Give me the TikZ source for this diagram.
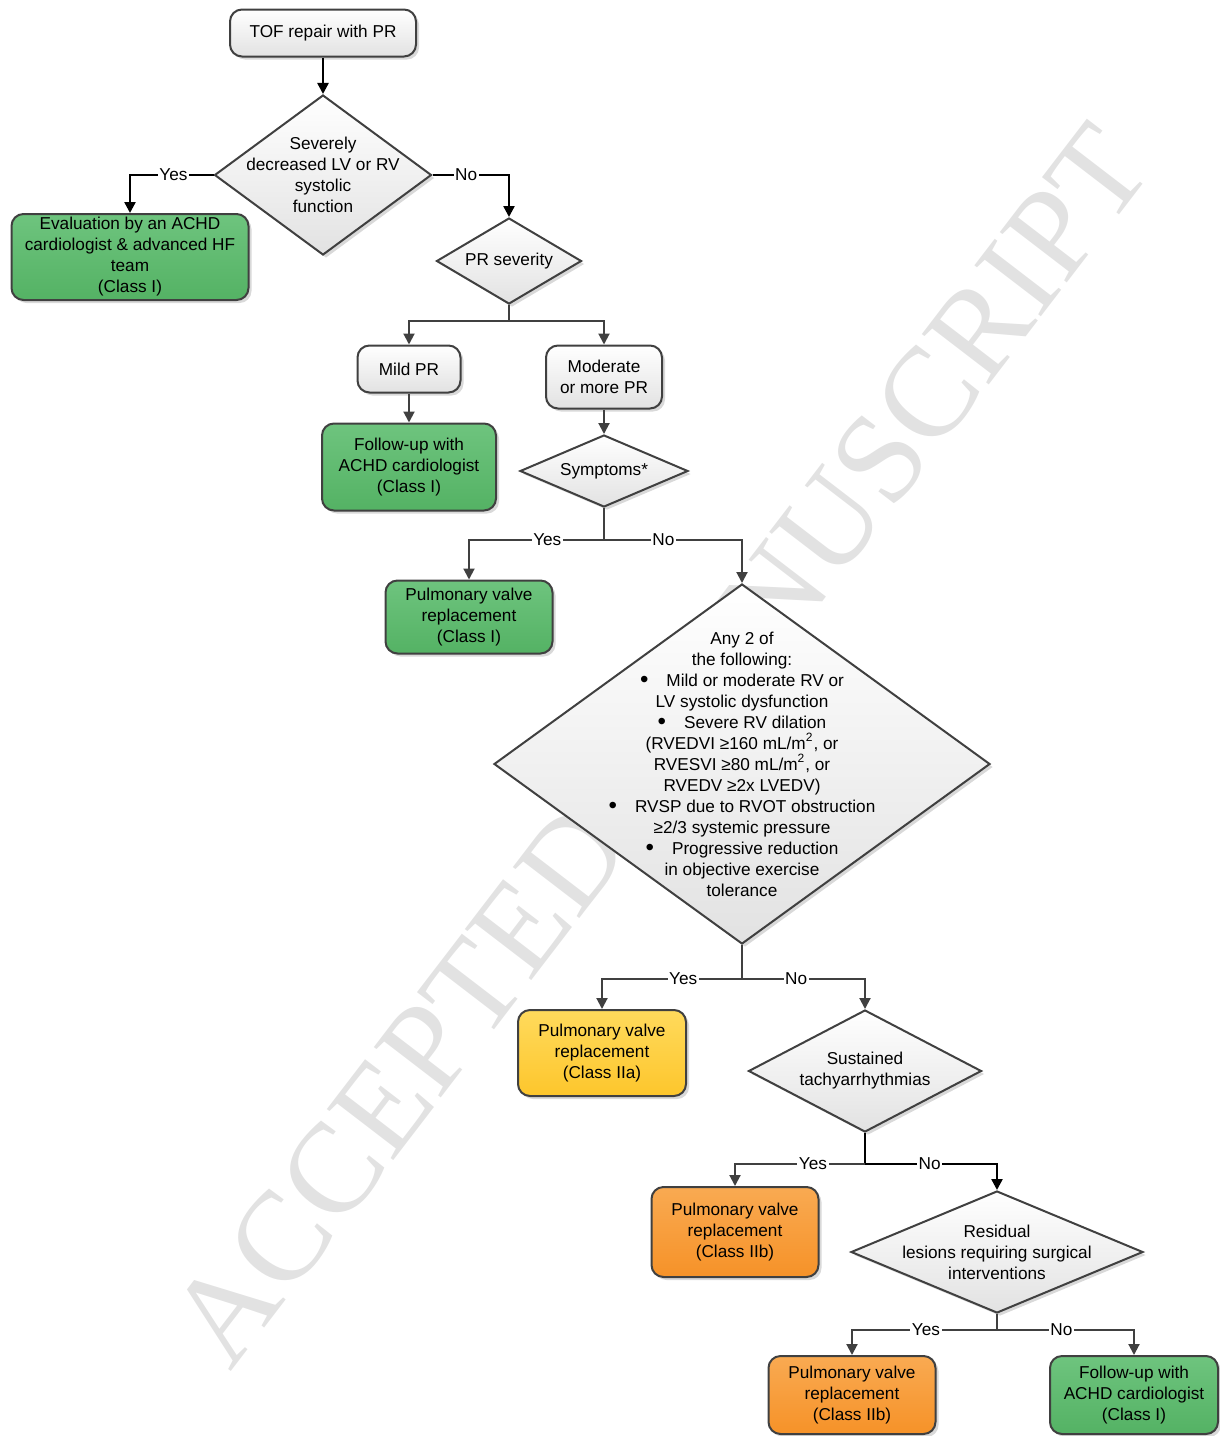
\documentclass[tikz,border=0pt]{standalone}
\usepackage{fontspec}
\setmainfont{Liberation Sans}
\newfontfamily\wmserif{Liberation Serif}
\usetikzlibrary{shapes.geometric,arrows.meta,shadows}
\definecolor{lineC}{RGB}{64,64,64}
\definecolor{wmC}{RGB}{226,226,226}
\definecolor{grTop}{RGB}{110,196,126}
\definecolor{grBot}{RGB}{84,178,100}
\definecolor{yeTop}{RGB}{255,218,92}
\definecolor{yeBot}{RGB}{253,198,44}
\definecolor{orTop}{RGB}{249,170,82}
\definecolor{orBot}{RGB}{246,146,40}
\definecolor{gyBot}{RGB}{226,226,226}
\newcommand\figfont{\fontsize{8.6}{10.5}\selectfont}
\newcommand\bulmark{\raisebox{-0.9pt}{\scalebox{1.4}{\textbullet}}\hspace{9pt}}
\tikzset{
  shadowed/.style={drop shadow={opacity=0.3,shadow xshift=1.5pt,shadow yshift=-1.5pt}},
  boxbase/.style={rectangle, rounded corners=6pt, draw=lineC, line width=1pt, font=\figfont,
     align=center, inner sep=1pt, shadowed},
  graybox/.style={boxbase, top color=white, bottom color=gyBot},
  greenbox/.style={boxbase, top color=grTop, bottom color=grBot},
  yellowbox/.style={boxbase, top color=yeTop, bottom color=yeBot},
  orangebox/.style={boxbase, top color=orTop, bottom color=orBot},
  decision/.style={diamond, draw=lineC, line width=1pt, inner sep=0pt, top color=white,
     bottom color=gyBot, shadowed},
  dtext/.style={font=\figfont, align=center, inner sep=0pt},
  conn/.style={draw=lineC, line width=1pt},
  arr/.style={conn, -{Triangle[length=5.5pt,width=5.5pt]}},
  bconn/.style={draw=black, line width=1.2pt},
  barr/.style={bconn, -{Triangle[length=5.5pt,width=5.5pt]}},
  lbl/.style={fill=white, inner sep=0.8pt, font=\figfont}
}
\begin{document}
\begin{tikzpicture}[x=0.5pt,y=-0.5pt]
\useasboundingbox (0,0) rectangle (1220,1436);
% watermark
\node[rotate=52.5, text=wmC, inner sep=0pt] (wm) at (660,745)
  {\wmserif\fontsize{64}{64}\selectfont ACCEPTED MANUSCRIPT};

% nodes
\node[graybox, minimum width=93pt, minimum height=23.5pt] (tof) at (323,33) {TOF repair with PR};
\node[decision, minimum width=108.5pt, minimum height=80pt,
  label={[dtext]center:Severely\\decreased LV or RV\\systolic\\function}] (d1) at (323,175) {};
\node[greenbox, minimum width=118.5pt, minimum height=43pt] (ev) at (130,257)
  {Evaluation by an ACHD\\cardiologist \& advanced HF\\team\\(Class I)};
\node[decision, minimum width=72.5pt, minimum height=43pt,
  label={[dtext]center:PR severity}] (prs) at (509,261) {};
\node[graybox, minimum width=51.5pt, minimum height=23.5pt] (mild) at (409,369) {Mild PR};
\node[graybox, minimum width=58pt, minimum height=31.5pt] (mod) at (604,377) {Moderate\\or more PR};
\node[greenbox, minimum width=87pt, minimum height=43.5pt] (fu1) at (409,467)
  {Follow-up with\\ACHD cardiologist\\(Class I)};
\node[decision, minimum width=84pt, minimum height=36pt,
  label={[dtext]center:Symptoms*}] (sym) at (604,471) {};
\node[greenbox, minimum width=83.5pt, minimum height=36.5pt] (pv1) at (469,617)
  {Pulmonary valve\\replacement\\(Class I)};
\node[decision, minimum width=248pt, minimum height=180pt,
  label={[dtext]center:Any 2 of\\the following:\\
  \bulmark Mild or moderate RV or\\
  LV systolic dysfunction\\
  \bulmark Severe RV dilation\\
  (RVEDVI ≥160 mL/m\textsuperscript{2}, or\\
  RVESVI ≥80 mL/m\textsuperscript{2}, or\\
  RVEDV ≥2x LVEDV)\\
  \bulmark RVSP due to RVOT obstruction\\
  ≥2/3 systemic pressure\\
  \bulmark Progressive reduction\\
  in objective exercise\\
  tolerance}] (big) at (742,764) {};
\node[yellowbox, minimum width=84pt, minimum height=43pt] (pv2) at (602,1053)
  {Pulmonary valve\\replacement\\(Class IIa)};
\node[decision, minimum width=116.5pt, minimum height=61pt,
  label={[dtext]center:Sustained\\tachyarrhythmias}] (sus) at (865,1071) {};
\node[orangebox, minimum width=83.5pt, minimum height=45pt] (pv3) at (735,1232)
  {Pulmonary valve\\replacement\\(Class IIb)};
\node[decision, minimum width=146pt, minimum height=61pt,
  label={[dtext]center:Residual\\lesions requiring surgical\\interventions}] (res) at (997,1252) {};
\node[orangebox, minimum width=83.5pt, minimum height=39pt] (pv4) at (852,1395)
  {Pulmonary valve\\replacement\\(Class IIb)};
\node[greenbox, minimum width=84pt, minimum height=39pt] (fu2) at (1134,1395)
  {Follow-up with\\ACHD cardiologist\\(Class I)};

% connectors
\draw[barr] (tof) -- (d1);
\draw[barr] (d1.west) -| node[lbl,pos=0.24]{Yes} (ev.north);
\draw[barr] (d1.east) -| node[lbl,pos=0.22]{No} (prs.north);

\draw[conn] (prs.south) -- ++(0,16) coordinate (j1);
\draw[arr] (j1) -| (mild.north);
\draw[arr] (j1) -| (mod.north);
\draw[arr] (mild) -- (fu1);
\draw[arr] (mod) -- (sym);

\draw[conn] (sym.south) -- ++(0,32) coordinate (j2);
\draw[arr] (j2) -| node[lbl,pos=0.21]{Yes} (pv1.north);
\draw[arr] (j2) -| node[lbl,pos=0.215]{No} (big.north);

\draw[conn] (big.south) -- ++(0,34) coordinate (j3);
\draw[arr] (j3) -| node[lbl,pos=0.21]{Yes} (pv2.north);
\draw[arr] (j3) -| node[lbl,pos=0.22]{No} (sus.north);

\draw[bconn] (sus.south) -- ++(0,31) coordinate (j4);
\draw[arr] (j4) -| node[lbl,pos=0.2]{Yes} (pv3.north);
\draw[barr] (j4) -| node[lbl,pos=0.245]{No} (res.north);

\draw[conn] (res.south) -- ++(0,16) coordinate (j5);
\draw[arr] (j5) -| node[lbl,pos=0.245]{Yes} (pv4.north);
\draw[arr] (j5) -| node[lbl,pos=0.235]{No} (fu2.north);
\end{tikzpicture}
\end{document}
